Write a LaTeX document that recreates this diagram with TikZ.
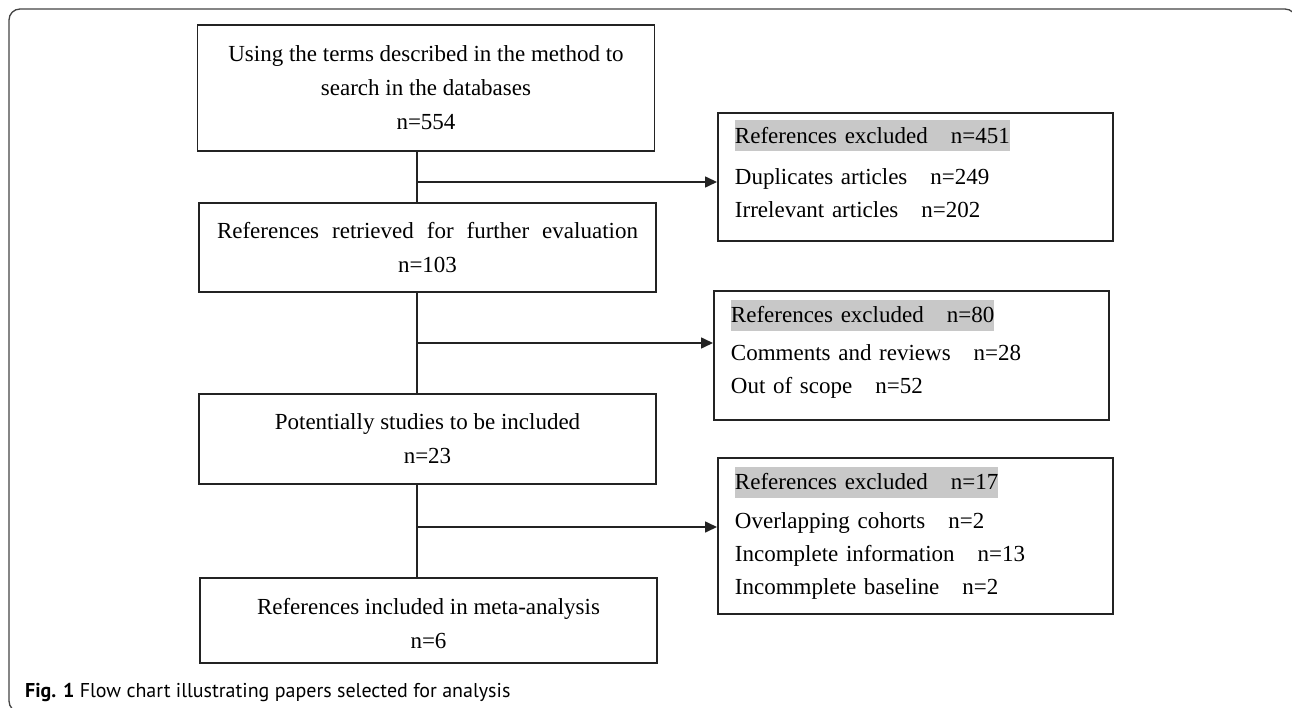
\documentclass[tikz,border=0pt]{standalone}
\usepackage{fontspec}
\setmainfont{Liberation Serif}
\newfontfamily\capfont{PT Sans}
\usepackage{tikz}
\usetikzlibrary{arrows.meta}
\definecolor{hdrgray}{RGB}{200,200,200}
\definecolor{linegray}{RGB}{35,35,35}
\newcommand{\hdr}[1]{{\setlength{\fboxsep}{0pt}\colorbox{hdrgray}{\rule[-8pt]{0pt}{31pt}#1}}}
\newcommand{\lowpad}[1]{\rule[-#1]{0pt}{0pt}}

\begin{document}
\begin{tikzpicture}[x=1pt,y=-1pt,
    mainbox/.style={draw=linegray,line width=1.9pt,minimum width=457pt,align=center,inner sep=0pt,font=\fontsize{23}{34}\selectfont},
    sidebox/.style={draw=linegray,line width=1.9pt,anchor=north west,align=left,inner xsep=17pt,inner ysep=0pt,text width=361pt,font=\fontsize{23}{33}\selectfont},
    flow/.style={draw=linegray,line width=1.6pt},
    excl/.style={flow,-{Triangle[length=12pt,width=11pt]}}]
        \useasboundingbox (0,0) rectangle (1292,708);
        \clip (0,0) rectangle (1292,708);
        \draw[linegray!85,line width=1.3pt,rounded corners=11pt] (9,9) rectangle (1296,712);

        \node[mainbox,minimum height=126pt] (B1) at (426,88) {Using the terms described in the method to\\search in the databases\\n=554};
        \node[mainbox,minimum height=89pt] (B2) at (427.5,247.5) {\makebox[421pt][s]{References retrieved for further evaluation}\\n=103};
        \node[mainbox,minimum height=90pt] (B3) at (427.5,439) {Potentially studies to be included\\n=23};
        \node[mainbox,minimum height=85pt] (B4) at (428.5,620.5) {\rule{0pt}{22pt}References included in meta-analysis\\n=6};

        \node[sidebox,minimum height=128pt] (R1) at (717,112) {\hdr{References excluded\quad n=451}\\[8pt]Duplicates articles\quad n=249\\Irrelevant articles\quad n=202\lowpad{16pt}};
        \node[sidebox,minimum height=129pt] (R2) at (713,290) {\hdr{References excluded\quad n=80}\\[5pt]Comments and reviews\quad n=28\\Out of scope\quad n=52\lowpad{17pt}};
        \node[sidebox,minimum height=156pt] (R3) at (717,457) {\hdr{References excluded\quad n=17}\\[6pt]Overlapping cohorts\quad n=2\\Incomplete information\quad n=13\\Incommplete baseline\quad n=2\lowpad{10pt}};

        \coordinate (sp) at (417,0);
        \foreach \a/\b in {B1/B2,B2/B3,B3/B4}{
          \draw[flow] (\a.south -| sp) -- (\b.north -| sp);
        }
        \foreach \y/\r in {182/R1,343/R2,527/R3}{
          \coordinate (J-\r) at (417,\y);
          \draw[excl] (J-\r) -- (J-\r -| \r.west);
        }

        \node[anchor=base west,inner sep=0pt,font=\capfont\fontsize{20}{24}\selectfont] (cap) at (25,697) {\textbf{Fig. 1} Flow chart illustrating papers selected for analysis};
      \end{tikzpicture}
\end{document}
